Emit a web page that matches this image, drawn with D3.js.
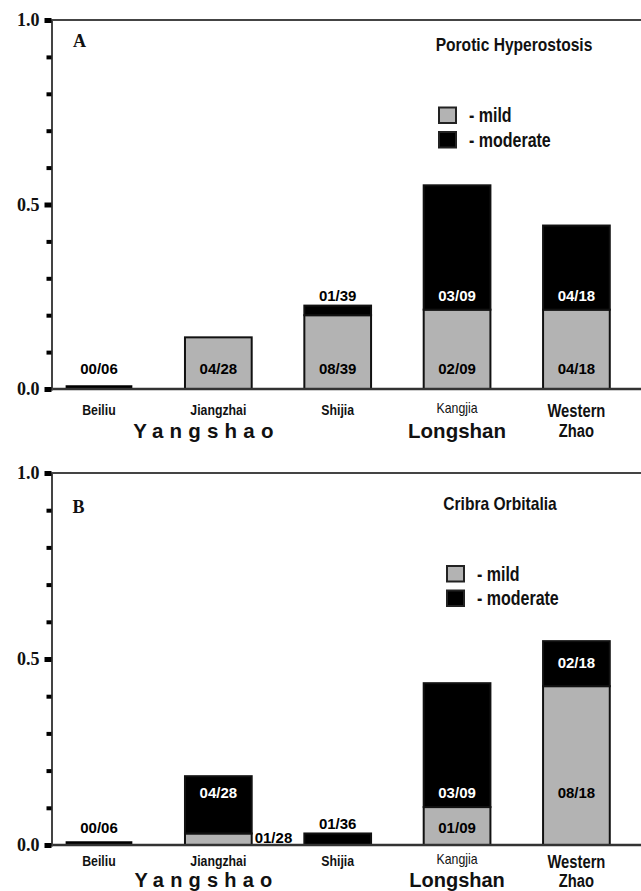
<!DOCTYPE html>
<html><head><meta charset="utf-8">
<script src="https://cdn.jsdelivr.net/npm/d3@7"></script>
<style>html,body{margin:0;padding:0;background:#fff;} svg{display:block;}</style>
</head><body>
<svg id="chart" width="641" height="891"></svg>
<script>
// ---------------- DATA ----------------
const categories = ["Beiliu", "Jiangzhai", "Shijia", "Kangjia", "Western Zhao"];
const categoryLines = [["Beiliu"], ["Jiangzhai"], ["Shijia"], ["Kangjia"], ["Western", "Zhao"]];
const groups = ["Yangshao", "Longshan"];
const groupAnchors = ["Jiangzhai", "Kangjia"];
const yTicks = [0, 0.1, 0.2, 0.3, 0.4, 0.5, 0.6, 0.7, 0.8, 0.9, 1.0];
const seriesKeys = ["mild", "moderate"];
const legendLabels = ["- mild", "- moderate"];

// Panel A: Porotic Hyperostosis
const phMild = [0, 0.14, 0.20, 0.215, 0.215];
const phModerate = [0, 0, 0.026, 0.337, 0.228];
const phMildLabels = ["00/06", "04/28", "08/39", "02/09", "04/18"];
const phModerateLabels = ["", "", "01/39", "03/09", "04/18"];

// Panel B: Cribra Orbitalia
const coMild = [0, 0.031, 0, 0.102, 0.427];
const coModerate = [0, 0.154, 0.031, 0.333, 0.121];
const coMildLabels = ["00/06", "01/28", "", "01/09", "08/18"];
const coModerateLabels = ["", "04/28", "01/36", "03/09", "02/18"];

// ---------------- LAYOUT ----------------
const panels = [
  { letter: "A", title: "Porotic Hyperostosis", mild: phMild, moderate: phModerate,
    mildLabels: phMildLabels, moderateLabels: phModerateLabels,
    mildLevels: [0.054, 0.054, 0.054, 0.054, 0.054],
    moderateLevels: [0.252, 0.252, 0.252, 0.252, 0.252],
    mildAlign: ["middle", "middle", "middle", "middle", "middle"],
    top: 20, bottom: 389, letterPos: [73, 46.5], titlePos: [514, 51],
    legendPos: [438, 106.5], catDy: 26, lineGap: 19.5, groupDy: 49, groupSize: 20.5 },
  { letter: "B", title: "Cribra Orbitalia", mild: coMild, moderate: coModerate,
    mildLabels: coMildLabels, moderateLabels: coModerateLabels,
    mildLevels: [0.046, 0.019, 0, 0.047, 0.141],
    moderateLevels: [0, 0.142, 0.058, 0.141, 0.49],
    mildAlign: ["middle", "after", "middle", "middle", "middle"],
    top: 473, bottom: 845, letterPos: [72.5, 513], titlePos: [500, 510],
    legendPos: [446, 565], catDy: 21, lineGap: 18.5, groupDy: 41.5, groupSize: 20 }
];
const catStyles = [
  { size: 15, weight: "bold", dy: 0 }, { size: 15, weight: "bold", dy: 0 },
  { size: 15, weight: "bold", dy: -0.5 }, { size: 15, weight: "normal", dy: -2.5 },
  { size: 18, weight: "bold", dy: 2 }
];
const groupOffsets = [-15, 0];
const grey = "#b3b3b3";
const axisX = 51.5, rightEdge = 641;

// ---------------- FONTS ----------------
function fontAvailable(name) {
  const c = document.createElement("canvas").getContext("2d");
  const s = "moderate Hyperostosis Western";
  c.font = "bold 40px serif"; const a = c.measureText(s).width;
  c.font = `bold 40px "${name}", serif`; const b = c.measureText(s).width;
  return Math.abs(a - b) > 0.5;
}
const hasNarrow = fontAvailable("Liberation Sans Narrow");
function narrow(sel, size, weight) {
  sel.attr("font-family", hasNarrow ? '"Liberation Sans Narrow", "Arial Narrow", sans-serif' : '"Liberation Sans", Arial, sans-serif')
     .attr("font-size", size).attr("font-weight", weight || "bold");
  if (!hasNarrow) sel.each(function () {
    const w = this.getComputedTextLength();
    d3.select(this).attr("textLength", w * 0.82).attr("lengthAdjust", "spacingAndGlyphs");
  });
}

// ---------------- DRAW ----------------
const svg = d3.select("#chart");
svg.append("rect").attr("width", 641).attr("height", 891).attr("fill", "#fff");

const x = d3.scaleBand().domain(categories).range([39.3, 636.1])
  .paddingInner(0.441).paddingOuter(0.2205);

panels.forEach(p => {
  const g = svg.append("g");
  const y = d3.scaleLinear().domain([0, 1]).range([p.bottom, p.top]);

  // frame line at 1.0
  g.append("line").attr("x1", axisX).attr("x2", rightEdge).attr("y1", y(1)).attr("y2", y(1))
    .attr("stroke", "#444").attr("stroke-width", 2);

  // bars
  const rows = categories.map((c, i) => ({ cat: c, mild: p.mild[i], moderate: p.moderate[i] }));
  const stacked = d3.stack().keys(seriesKeys)(rows);
  stacked.forEach(s => {
    g.append("g").selectAll("rect").data(s.filter(d => d[1] - d[0] > 0)).join("rect")
      .attr("x", d => x(d.data.cat)).attr("width", x.bandwidth())
      .attr("y", d => y(d[1])).attr("height", d => y(d[0]) - y(d[1]))
      .attr("fill", s.key === "mild" ? grey : "#000")
      .attr("stroke", "#111").attr("stroke-width", 2);
  });
  // zero-total markers
  g.append("g").selectAll("line").data(rows.filter(r => r.mild + r.moderate === 0)).join("line")
    .attr("x1", d => x(d.cat)).attr("x2", d => x(d.cat) + x.bandwidth())
    .attr("y1", y(0) - 1.5).attr("y2", y(0) - 1.5).attr("stroke", "#000").attr("stroke-width", 4.5);

  // baseline
  g.append("line").attr("x1", axisX).attr("x2", rightEdge).attr("y1", y(0)).attr("y2", y(0))
    .attr("stroke", "#333").attr("stroke-width", 2.5);

  // y axis
  const isMajor = d => Math.round(d * 10) % 5 === 0;
  const ax = g.append("g").attr("transform", `translate(${axisX},0)`)
    .call(d3.axisLeft(y).tickValues(yTicks).tickSizeOuter(0).tickSize(6)
      .tickFormat(d => isMajor(d) ? d3.format(".1f")(d) : ""));
  ax.select(".domain").attr("stroke", "#444").attr("stroke-width", 2);
  ax.selectAll(".tick line").attr("stroke", "#000")
    .attr("stroke-width", d => isMajor(d) ? 5 : 4).attr("x2", d => isMajor(d) ? -7 : -5);
  ax.selectAll(".tick text").attr("x", -12).attr("fill", "#111")
    .attr("font-family", '"Liberation Serif", "Times New Roman", serif')
    .attr("font-weight", "bold").attr("font-size", 18);

  // count labels
  const labelSpecs = [];
  categories.forEach((c, i) => {
    const tot = p.mild[i] + p.moderate[i];
    const colorFor = lv => (lv > p.mild[i] && lv < tot) ? "#fff" : "#000";
    if (p.mildLabels[i]) labelSpecs.push({ text: p.mildLabels[i], cat: c, lv: p.mildLevels[i], align: p.mildAlign[i], color: colorFor(p.mildLevels[i]) });
    if (p.moderateLabels[i]) labelSpecs.push({ text: p.moderateLabels[i], cat: c, lv: p.moderateLevels[i], align: "middle", color: colorFor(p.moderateLevels[i]) });
  });
  g.append("g").selectAll("text").data(labelSpecs).join("text")
    .attr("x", d => d.align === "after" ? x(d.cat) + x.bandwidth() + 3 : x(d.cat) + x.bandwidth() / 2)
    .attr("y", d => y(d.lv)).attr("dy", "0.36em")
    .attr("text-anchor", d => d.align === "after" ? "start" : "middle")
    .attr("fill", d => d.color)
    .attr("font-family", '"Liberation Sans", Arial, sans-serif')
    .attr("font-weight", "bold").attr("font-size", 15)
    .text(d => d.text);

  // category labels
  categories.forEach((c, i) => {
    const st = catStyles[i];
    categoryLines[i].forEach((line, j) => {
      const t = g.append("text").attr("x", x(c) + x.bandwidth() / 2)
        .attr("y", y(0) + p.catDy + st.dy + j * p.lineGap)
        .attr("text-anchor", "middle").attr("fill", "#111").text(line);
      narrow(t, st.size, st.weight);
    });
  });

  // group labels
  groups.forEach((gr, i) => {
    const cx = x(groupAnchors[i]) + x.bandwidth() / 2 + groupOffsets[i];
    const ls = i === 0 ? 6.2 : 0;
    g.append("text").attr("x", cx + ls / 2).attr("y", y(0) + p.groupDy)
      .attr("text-anchor", "middle").attr("fill", "#111")
      .attr("font-family", '"Liberation Sans", Arial, sans-serif')
      .attr("font-weight", "bold").attr("font-size", p.groupSize)
      .attr("letter-spacing", ls).text(gr);
  });

  // panel letter
  g.append("text").attr("x", p.letterPos[0]).attr("y", p.letterPos[1])
    .attr("font-family", '"Liberation Serif", "Times New Roman", serif')
    .attr("font-weight", "bold").attr("font-size", 18).attr("fill", "#111").text(p.letter);

  // title
  const tt = g.append("text").attr("x", p.titlePos[0]).attr("y", p.titlePos[1])
    .attr("text-anchor", "middle").attr("fill", "#111").text(p.title);
  narrow(tt, 19);

  // legend
  const lg = g.append("g").attr("transform", `translate(${p.legendPos[0]},${p.legendPos[1]})`);
  seriesKeys.forEach((k, i) => {
    lg.append("rect").attr("x", 1).attr("y", i * 24.5 + 1).attr("width", 17).attr("height", 15.5)
      .attr("fill", k === "mild" ? grey : "#000").attr("stroke", "#222").attr("stroke-width", 2);
    const lt = lg.append("text").attr("x", 31).attr("y", i * 24.5 + 15.5).attr("fill", "#111").text(legendLabels[i]);
    narrow(lt, 19.5);
  });
});
</script>
</body></html>
